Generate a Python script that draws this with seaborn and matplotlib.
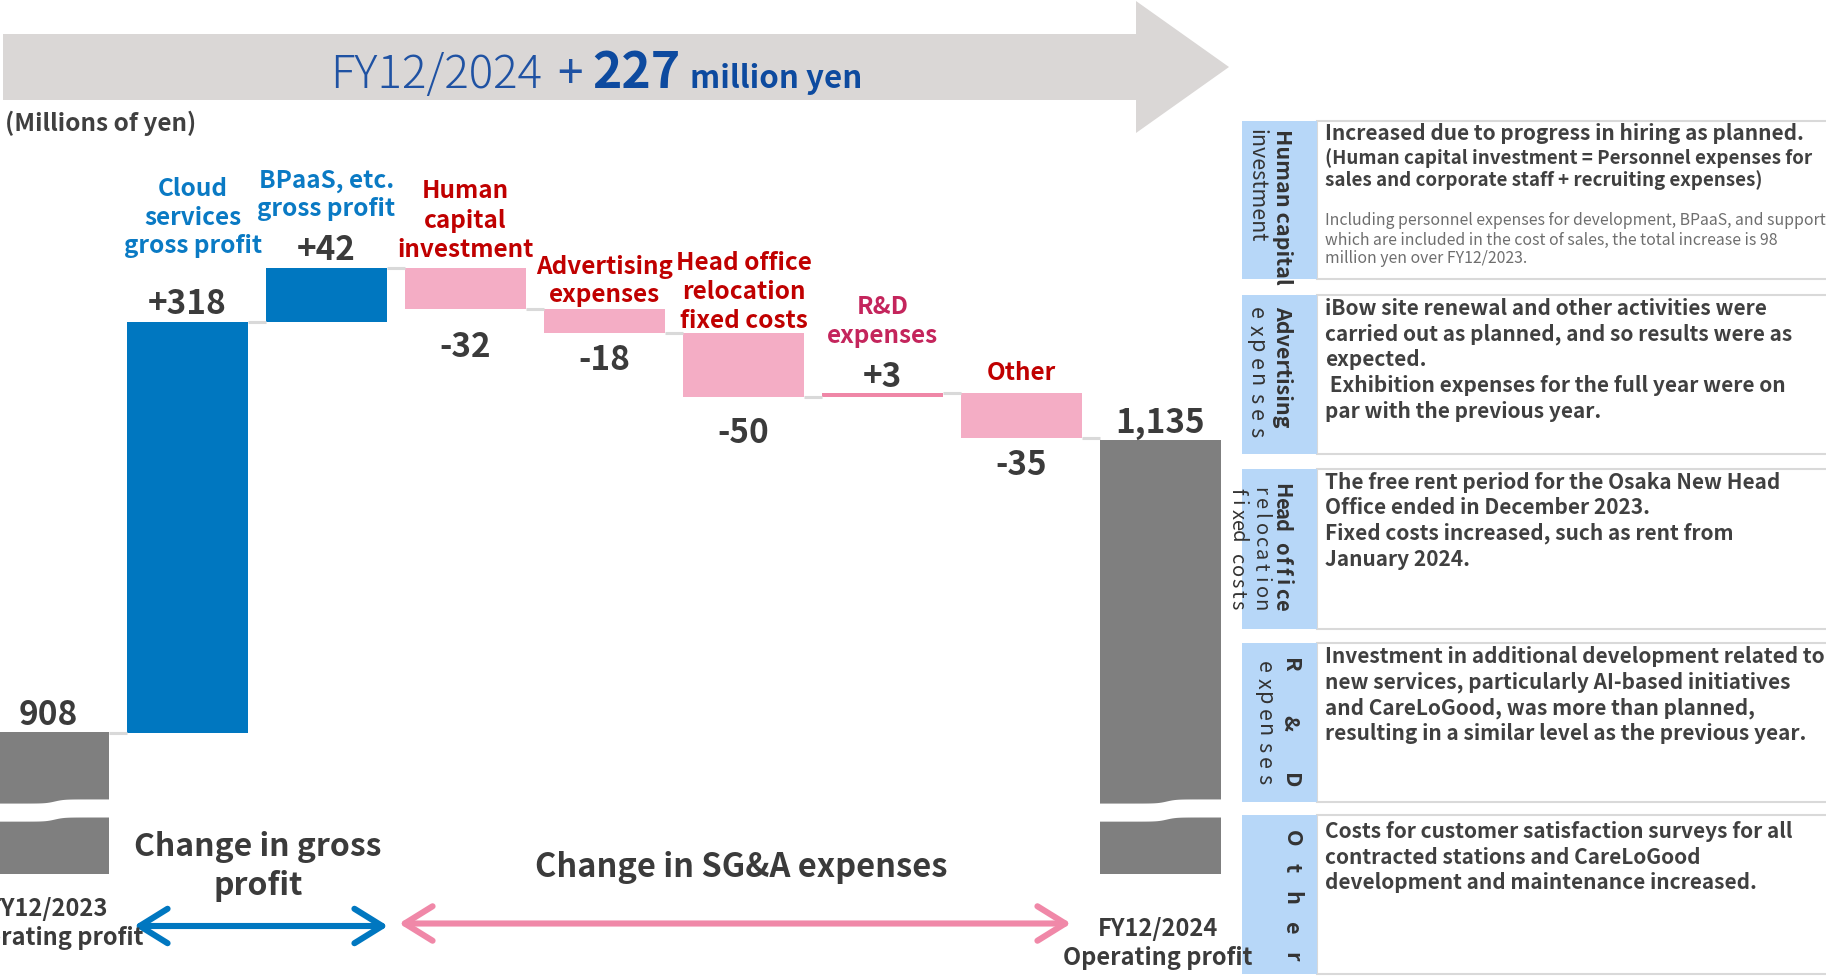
import numpy as np
import matplotlib
matplotlib.use("Agg")
import matplotlib.pyplot as plt
from matplotlib.patches import Polygon, Rectangle, FancyArrowPatch
from matplotlib.transforms import blended_transform_factory
import seaborn as sns

# ---------------- data (millions of yen) ----------------
steps = ["FY12/2023", "Cloud", "BPaaS", "Human", "Advertising",
         "HeadOffice", "RD", "Other", "FY12/2024"]
start_value = 908
end_value = 1135
deltas = [318, 42, -32, -18, -50, 3, -35]
value_labels = ["908", "+318", "+42", "-32", "-18", "-50", "+3", "-35", "1,135"]
step_titles = [
    None,
    ["Cloud", "services", "gross profit"],
    ["BPaaS, etc.", "gross profit"],
    ["Human", "capital", "investment"],
    ["Advertising", "expenses"],
    ["Head office", "relocation", "fixed costs"],
    ["R&D", "expenses"],
    ["Other"],
    None,
]
panel_titles = [
    ["Human capital", "investment"],
    ["Advertising", "expenses"],
    ["Head office", "relocation", "fixed costs"],
    ["R & D", "expenses"],
    ["Other"],
]
panel_texts = [
    ["Increased due to progress in hiring as planned.",
     "(Human capital investment = Personnel expenses for",
     "sales and corporate staff + recruiting expenses)"],
    ["iBow site renewal and other activities were",
     "carried out as planned, and so results were as",
     "expected.",
     " Exhibition expenses for the full year were on",
     "par with the previous year."],
    ["The free rent period for the Osaka New Head",
     "Office ended in December 2023.",
     "Fixed costs increased, such as rent from",
     "January 2024."],
    ["Investment in additional development related to",
     "new services, particularly AI-based initiatives",
     "and CareLoGood, was more than planned,",
     "resulting in a similar level as the previous year."],
    ["Costs for customer satisfaction surveys for all",
     "contracted stations and CareLoGood",
     "development and maintenance increased."],
]
panel_note = ["Including personnel expenses for development, BPaaS, and support",
              "which are included in the cost of sales, the total increase is 98",
              "million yen over FY12/2023."]

# ---------------- styling ----------------
sns.set_theme(style="white")
plt.rcParams["font.family"] = ["Noto Sans CJK JP", "DejaVu Sans"]

W, H = 1826, 980
BLUE = "#0077C0"
PINK = "#F4ADC5"
PINK_DARK = "#EF87A7"
GREY = "#7F7F7F"
DARK = "#3B3B3B"
RED = "#C00000"
CRIMSON = "#C4255C"
LABEL_BLUE = "#0A7AC4"
PANEL_BLUE = "#B7D7F8"

bar_colors = [GREY, BLUE, BLUE, PINK, PINK, PINK, PINK_DARK, PINK, GREY]
title_colors = [None, LABEL_BLUE, LABEL_BLUE, RED, RED, RED, CRIMSON, RED, None]
axis_floor = 798          # broken bars are cut off at this value
bar_width = 0.87

# ---------------- waterfall geometry ----------------
bottoms, heights, levels = [axis_floor], [start_value - axis_floor], [start_value]
level = start_value
for d in deltas:
    bottoms.append(min(level, level + d))
    heights.append(abs(d))
    level += d
    levels.append(level)
bottoms.append(axis_floor)
heights.append(end_value - axis_floor)

fig = plt.figure(figsize=(W / 100, H / 100), dpi=100)
ax = fig.add_axes([0, 0, 1, 1])

for i, key in enumerate(steps):
    sns.barplot(x=[key], y=[heights[i]], order=steps, color=bar_colors[i],
                saturation=1, width=bar_width, bottom=bottoms[i],
                linewidth=0, errorbar=None, ax=ax)

# pixel layout of the bar axes
step_px, x0_px = 139.0, 48.5
base_px, px_per_unit = 732.5, 1.29
ax.set_xlim(-x0_px / step_px, (W - x0_px) / step_px)
ax.set_ylim(start_value - (H - base_px) / px_per_unit,
            start_value + base_px / px_per_unit)
ax.set_axis_off()

# connectors between consecutive bars
half = bar_width / 2
for i, lv in enumerate(levels):
    ax.plot([i + half, i + 1 - half], [lv, lv], color="#D9D9D9", lw=2.2,
            solid_capstyle="butt", zorder=1)

# axis-break bands across the two total bars
for i in (0, len(steps) - 1):
    t = np.linspace(0, 1, 60)
    xs = i - half - 0.02 + t * (bar_width + 0.04)
    s = 1.6 * np.tanh((t - 0.55) * 14)
    mid, hw = 847.5, 7.0
    top = mid + hw + s
    bot = mid - hw + s
    poly = np.column_stack([np.concatenate([xs, xs[::-1]]),
                            np.concatenate([top, bot[::-1]])])
    ax.add_patch(Polygon(poly, closed=True, fc="white", ec="none", zorder=5))

# value labels
value_offsets = [17.5, 17.5, 17.5, -38.5, -27.5, -36.5, 15.5, -27.5, 16.5]
for i, lbl in enumerate(value_labels):
    off = value_offsets[i]
    anchor = bottoms[i] + heights[i] if off > 0 else bottoms[i]
    ax.annotate(lbl, xy=(i, anchor), xytext=(0, off), textcoords="offset pixels",
                ha="center", va="center", fontsize=24, fontweight="bold",
                color=DARK, zorder=6)

# ---------------- overlay in pixel coordinates ----------------
ov = fig.add_axes([0, 0, 1, 1])
ov.set_xlim(0, W)
ov.set_ylim(H, 0)
ov.set_axis_off()
ov.patch.set_alpha(0)

# step titles above the bars
title_rows = {1: [189.5, 217.5, 245.5], 2: [181, 209], 3: [191.5, 220.5, 249.5],
              4: [267, 295], 5: [263, 292, 321], 6: [307, 336], 7: [373]}
title_dx = {1: 0.04}
tr = blended_transform_factory(ax.transData, ov.transData)
for i, lines in enumerate(step_titles):
    if not lines:
        continue
    for line, py in zip(lines, title_rows[i]):
        ov.text(i + title_dx.get(i, 0), py, line, transform=tr, ha="center",
                va="center", fontsize=17.5, fontweight="bold",
                color=title_colors[i])

# header arrow
ov.add_patch(Polygon([(3, 34), (1136, 34), (1136, 1), (1229, 67),
                      (1136, 133), (1136, 100), (3, 100)],
                     closed=True, fc="#DAD7D6", ec="none"))
hdr_blue = "#1F52A3"
ov.text(330, 88, "FY12/2024", fontsize=33, color=hdr_blue, va="baseline",
        ha="left", fontweight="light")
ov.text(557, 88, "+", fontsize=33, color=hdr_blue, va="baseline", ha="left")
ov.text(592, 88, "227", fontsize=36, color="#0D4A9F", va="baseline",
        ha="left", fontweight="bold")
ov.text(690, 88, "million yen", fontsize=22.5, color="#0D4A9F", va="baseline",
        ha="left", fontweight="bold")

ov.text(5, 123, "(Millions of yen)", fontsize=17.5, fontweight="bold",
        color="#404040", ha="left", va="center")

# bottom captions and spans
ov.text(258, 847, "Change in gross", fontsize=23, fontweight="bold", color=DARK,
        ha="center", va="center")
ov.text(258, 886, "profit", fontsize=23, fontweight="bold", color=DARK,
        ha="center", va="center")
ov.text(741, 867, "Change in SG&A expenses", fontsize=23.5, fontweight="bold",
        color=DARK, ha="center", va="center")
for cx, rows, name in ((48.5, (909, 938), "FY12/2023"),
                       (1157.5, (929, 958), "FY12/2024")):
    ov.text(cx, rows[0], name, fontsize=17, fontweight="bold", color=DARK,
            ha="center", va="center", zorder=8)
    ov.text(cx, rows[1], "Operating profit", fontsize=17, fontweight="bold",
            color=DARK, ha="center", va="center", zorder=8)

for (xa, xb, y, c) in ((134, 388, 926, BLUE), (399, 1071, 923.5, "#F088A8")):
    arr = FancyArrowPatch((xa, y), (xb, y),
                          arrowstyle="<->,head_length=1.0,head_width=0.62",
                          mutation_scale=20, lw=4.4, color=c, shrinkA=0,
                          shrinkB=0, capstyle="round", joinstyle="round")
    ov.add_patch(arr)

# ---------------- explanation panels ----------------
panel_rows = [(121, 279.5), (294.6, 454), (469, 629), (643, 802), (815, 973.5)]
col_x0, col_x1 = 1242, 1317
body_x = 1325
TXT = "#404040"


def spread(x, y0, y1, s, size, weight):
    ys = np.linspace(y0, y1, len(s))
    for ch, y in zip(s, ys):
        if ch != " ":
            ov.text(x, y, ch, rotation=-90, ha="center", va="center",
                    fontsize=size, fontweight=weight, color="#333333", zorder=7)


for (top, bot) in panel_rows:
    ov.add_patch(Rectangle((col_x1, top), W + 10 - col_x1, bot - top,
                           fc="white", ec="#D9D9D9", lw=1.5, zorder=2))
    ov.add_patch(Rectangle((col_x0, top), col_x1 - col_x0, bot - top,
                           fc=PANEL_BLUE, ec="none", zorder=3))

# vertical titles
ov.text(1283, 129, panel_titles[0][0], rotation=-90, ha="center", va="top",
        fontsize=15.5, fontweight="bold", color="#333333", zorder=7)
ov.text(1256, 129, panel_titles[0][1], rotation=-90, ha="center", va="top",
        fontsize=15.5, color="#333333", zorder=7)
ov.text(1283, 306, panel_titles[1][0], rotation=-90, ha="center", va="top",
        fontsize=15.5, fontweight="bold", color="#333333", zorder=7)
spread(1256, 313, 432, panel_titles[1][1], 15.5, "normal")
spread(1282, 491, 605, panel_titles[2][0], 14.5, "bold")
spread(1260, 491, 605, panel_titles[2][1], 14.5, "normal")
spread(1237, 491, 605, panel_titles[2][2], 14.5, "normal")
spread(1290, 665, 781, panel_titles[3][0], 15.5, "bold")
spread(1264, 667, 779, panel_titles[3][1], 15.5, "normal")
spread(1292, 838, 957, panel_titles[4][0], 15.5, "bold")

body_rows = [[134, 158, 180], [308, 334, 359.7, 385, 411], [482, 507.5, 533, 559],
             [656.6, 682, 708, 733.5], [831, 857, 882.5]]
for k, (lines, rows) in enumerate(zip(panel_texts, body_rows)):
    for j, (line, py) in enumerate(zip(lines, rows)):
        size = 15 if (k > 0 or j == 0) else 13.5
        ov.text(body_x, py, line, fontsize=size, fontweight="bold", color=TXT,
                ha="left", va="center", zorder=7)
for line, py in zip(panel_note, (220, 240, 258)):
    ov.text(body_x, py, line, fontsize=11.4, color="#6E6E6E", ha="left",
            va="center", zorder=7)

fig.savefig("out.png", dpi=100)
